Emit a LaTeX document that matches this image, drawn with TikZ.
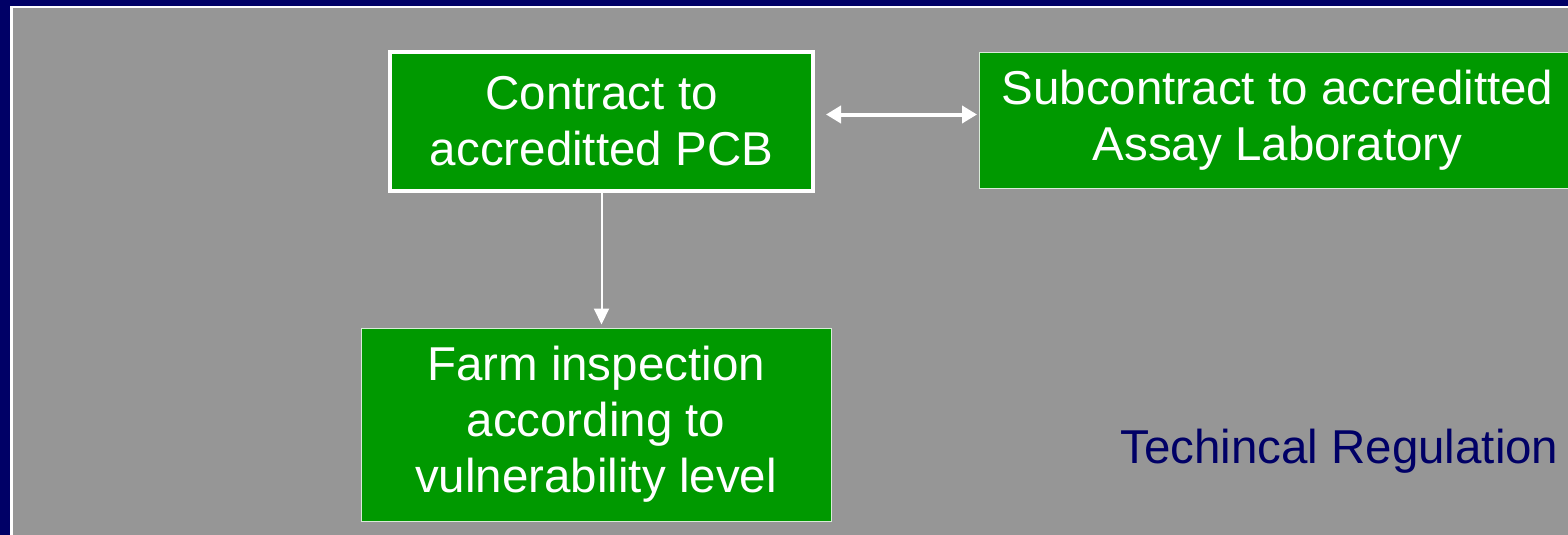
\documentclass[tikz,border=0pt]{standalone}
\usepackage{fontspec}
\setmainfont{Liberation Sans}
\usetikzlibrary{arrows.meta}
\definecolor{navy}{HTML}{000066}
\definecolor{slidegray}{HTML}{969696}
\definecolor{boxgreen}{HTML}{009900}
\definecolor{thinedge}{HTML}{D8ECD8}
\tikzset{
  greenbox/.style={rectangle, fill=boxgreen, draw=thinedge, line width=1pt, inner sep=0pt,
    text=white, align=center, font=\fontsize{47.5}{56}\selectfont},
  mainbox/.style={greenbox, draw=white, line width=4pt},
  link/.style={draw=white, line width=2pt, -{Triangle[length=16pt,width=15pt]}},
  duallink/.style={draw=white, line width=4pt, {Triangle[length=15pt,width=17pt]}-{Triangle[length=15pt,width=17pt]}},
  label/.style={text=navy, font=\fontsize{47.5}{56}\selectfont, inner sep=0pt}
}
\begin{document}
\begin{tikzpicture}[x=1pt,y=-1pt]
\useasboundingbox (0,0) rectangle (1568,535);
\fill[navy] (0,0) rectangle (1568,535);
\fill[white] (10,6) rectangle (1568,535);
\fill[slidegray] (12.5,8) rectangle (1568,535);
\node[mainbox, minimum width=423pt, minimum height=139pt] (contract) at (601.5,121.5) {Contract to\\accreditted PCB};
\node[greenbox, minimum width=596pt, minimum height=136pt] (sub) at (1277.5,120.5) {Subcontract to accreditted\\Assay Laboratory};
\node[greenbox, minimum width=470pt, minimum height=193pt] (farm) at (596,424.5) {Farm inspection\\according to\\vulnerability level};
\node[label, anchor=base west] (tech) at (1120,463) {Techincal Regulation};
\draw[duallink, shorten <=11pt, shorten >=2pt] ([yshift=7pt]contract.east) -- ([yshift=7pt]contract.east -| sub.west);
\draw[link, shorten >=3pt] (contract.south) -- (contract.south |- farm.north);
\end{tikzpicture}
\end{document}
